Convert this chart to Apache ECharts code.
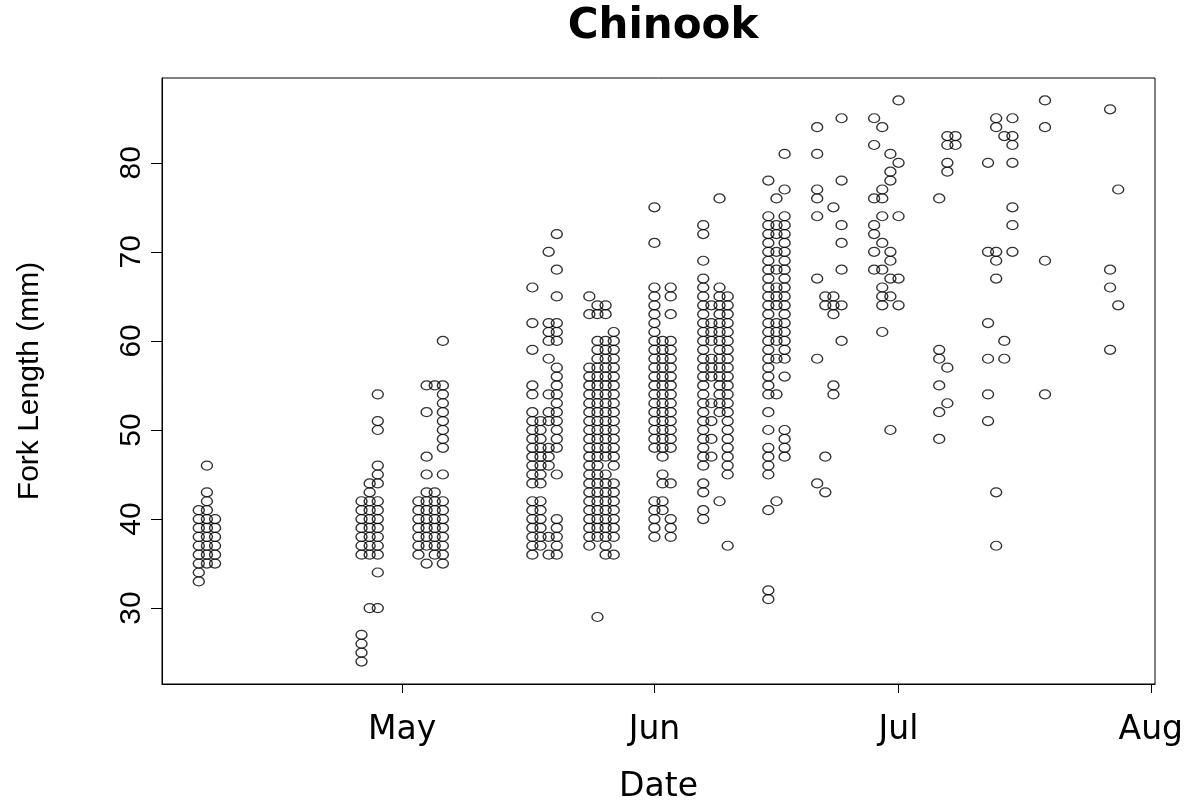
<!DOCTYPE html>
<html><head><meta charset="utf-8">
<script src="https://cdn.jsdelivr.net/npm/echarts@6/dist/echarts.min.js"></script>
<style>html,body{margin:0;padding:0;background:#fff}#c{width:1196px;height:809px}</style>
</head><body><div id="c"></div><script>
// ---- data ----
const titleText = 'Chinook';
const xAxisTitle = 'Date';
const yAxisTitle = 'Fork Length (mm)';
const sampleDates = [
  '2015-04-06','2015-04-07','2015-04-08',
  '2015-04-26','2015-04-27','2015-04-28',
  '2015-05-03','2015-05-04','2015-05-05','2015-05-06',
  '2015-05-17','2015-05-18','2015-05-19','2015-05-20',
  '2015-05-24','2015-05-25','2015-05-26','2015-05-27',
  '2015-06-01','2015-06-02','2015-06-03',
  '2015-06-07','2015-06-08','2015-06-09','2015-06-10',
  '2015-06-15','2015-06-16','2015-06-17',
  '2015-06-21','2015-06-22','2015-06-23','2015-06-24',
  '2015-06-28','2015-06-29','2015-06-30','2015-07-01',
  '2015-07-06','2015-07-07','2015-07-08',
  '2015-07-12','2015-07-13','2015-07-14','2015-07-15',
  '2015-07-19','2015-07-27','2015-07-28'
];
const forkLengths = [
  [41,40,39,38,37,36,35,34,33],
  [46,43,42,41,40,39,38,37,36,35],
  [40,39,38,37,36,35],
  [42,41,40,39,38,37,36,27,26,25,24],
  [44,43,42,41,40,39,38,37,36,30],
  [54,51,50,46,45,44,42,41,40,39,38,37,36,34,30],
  [42,41,40,39,38,37,36],
  [55,52,47,45,43,42,41,40,39,38,37,35],
  [55,43,42,41,40,39,38,37,36],
  [60,55,54,53,52,51,50,49,48,45,42,41,40,39,38,37,36,35],
  [66,62,59,55,54,52,51,50,49,48,47,46,45,44,42,41,40,39,38,37,36],
  [51,50,49,48,47,46,45,44,42,41,40,39,38,37],
  [70,62,61,60,58,54,52,51,48,47,46,38,36],
  [72,68,65,62,61,60,57,56,55,54,53,52,51,50,49,48,45,40,39,38,37,36],
  [65,63,57,56,55,54,53,52,51,50,49,48,47,46,45,44,43,42,41,40,39,38,37],
  [64,63,60,59,58,57,56,55,54,53,52,51,50,49,48,47,46,45,44,43,42,41,40,39,38,29],
  [64,63,60,59,58,57,56,55,54,53,52,51,50,49,48,47,45,44,43,42,41,40,39,38,37,36],
  [61,60,59,58,57,56,55,54,53,52,51,50,49,48,47,46,44,43,42,41,40,39,38,36],
  [75,71,66,65,64,63,62,61,60,59,58,57,56,55,54,53,52,51,50,49,48,42,41,40,39,38],
  [60,59,58,57,56,55,54,53,52,51,50,49,48,47,45,44,42,41],
  [66,65,63,60,59,58,57,56,55,54,53,52,51,50,49,48,44,40,39,38],
  [73,72,69,67,66,65,64,63,62,61,60,59,58,57,56,55,54,53,52,51,50,49,48,47,46,44,43,41,40],
  [64,62,61,60,58,57,56,53,51,49,47],
  [76,66,65,64,63,62,61,60,59,58,57,56,55,54,53,52,42],
  [65,64,63,62,61,60,59,58,57,56,55,54,53,52,51,50,49,48,47,46,45,37],
  [78,74,73,72,71,70,69,68,67,66,65,64,63,62,61,60,59,58,57,56,55,54,52,50,48,47,46,45,41,32,31],
  [76,73,72,70,68,66,65,64,62,61,60,58,54,42],
  [81,77,74,73,72,71,70,69,68,67,66,65,64,63,62,61,60,59,58,56,50,49,48,47],
  [84,81,77,76,74,67,58,44],
  [65,64,47,43],
  [75,65,64,63,55,54],
  [85,78,73,71,68,64,60],
  [85,82,76,73,72,70,68],
  [84,77,76,74,71,68,66,65,64,61],
  [81,79,78,70,69,67,65,50],
  [87,80,74,67,64],
  [76,59,58,55,52,49],
  [83,82,80,79,57,53],
  [83,82],
  [80,70,62,58,54,51],
  [85,84,70,69,67,43,37],
  [83,60,58],
  [85,83,82,80,75,73,70],
  [87,84,69,54],
  [86,68,66,59],
  [77,64]
];
const monthTickDates = ['2015-05-01','2015-06-01','2015-07-01','2015-08-01'];
const monthTickLabels = ['May','Jun','Jul','Aug'];
const yTickValues = [30,40,50,60,70,80];

// ---- build ----
const DAY = 86400000;
const origin = Date.UTC(2015, 4, 1);
function dayOf(s){ const p = s.split('-').map(Number); return (Date.UTC(p[0], p[1]-1, p[2]) - origin) / DAY; }
const points = [];
sampleDates.forEach((d, i) => forkLengths[i].forEach(v => points.push([dayOf(d), v])));
const xs = points.map(p => p[0]), ys = points.map(p => p[1]);
const xMin = Math.min(...xs), xMax = Math.max(...xs);
const yMin = Math.min(...ys), yMax = Math.max(...ys);
const xPad = 0.04 * (xMax - xMin), yPad = 0.04 * (yMax - yMin);
const tickDays = monthTickDates.map(dayOf);

const chart = echarts.init(document.getElementById('c'), null, {renderer: 'canvas'});
chart.setOption({
  animation: false,
  backgroundColor: '#ffffff',
  title: {
    text: titleText, left: 658, top: 1, textAlign: 'center',
    textStyle: {fontFamily: 'DejaVu Sans', fontWeight: 'bold', fontSize: 42, color: '#000'}
  },
  grid: {left: 162, right: 41, top: 78, bottom: 121, show: true, borderColor: '#000', borderWidth: 1, backgroundColor: 'transparent'},
  xAxis: {
    type: 'value', min: xMin - xPad, max: xMax + xPad,
    name: xAxisTitle, nameLocation: 'middle', nameGap: 87,
    nameTextStyle: {fontFamily: 'DejaVu Sans', fontSize: 33, color: '#000'},
    axisLine: {show: true, onZero: false, lineStyle: {color: '#000', width: 1}}, splitLine: {show: false},
    axisTick: {show: true, customValues: tickDays, length: 9, lineStyle: {color: '#000', width: 1}},
    axisLabel: {customValues: tickDays, margin: 30, fontFamily: 'DejaVu Sans', fontSize: 33, color: '#000',
      formatter: v => monthTickLabels[tickDays.indexOf(v)] || ''}
  },
  yAxis: {
    type: 'value', min: yMin - yPad, max: yMax + yPad,
    name: yAxisTitle, nameLocation: 'middle', nameGap: 117,
    nameTextStyle: {fontFamily: 'Liberation Sans', fontSize: 30, color: '#000'},
    axisLine: {show: true, onZero: false, lineStyle: {color: '#000', width: 1}}, splitLine: {show: false},
    axisTick: {show: true, customValues: yTickValues, length: 11, lineStyle: {color: '#000', width: 1}},
    axisLabel: {customValues: yTickValues, rotate: 90, margin: 15, fontFamily: 'Liberation Sans', fontSize: 30, color: '#000'}
  },
  series: [{
    type: 'scatter', data: points, symbol: 'circle', symbolSize: [11, 9],
    itemStyle: {color: 'rgba(0,0,0,0)', borderColor: '#000', borderWidth: 1.3},
    emphasis: {disabled: true}
  }]
});
</script></body></html>
